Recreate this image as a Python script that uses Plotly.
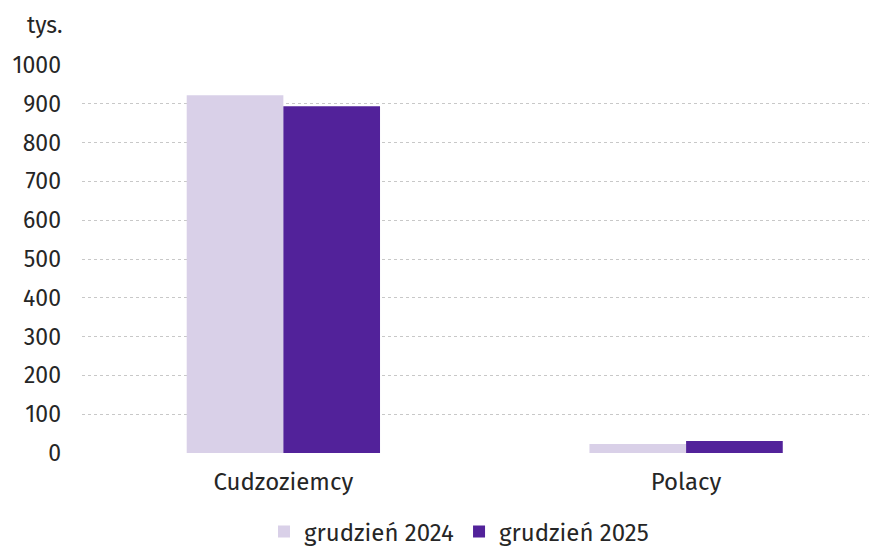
import plotly.graph_objects as go

categories = ["Cudzoziemcy", "Polacy"]
series_names = ["grudzień 2024", "grudzień 2025"]
values_2024 = [922, 23]
values_2025 = [894, 31]
y_ticks = [0, 100, 200, 300, 400, 500, 600, 700, 800, 900, 1000]

colors = ["#D9D0E8", "#52229A"]
FONT = "Fira Sans, Open Sans, Lato, sans-serif"

W, H = 869, 540  # page has an 8px body margin

fig = go.Figure()
for name, vals, col in zip(series_names, [values_2024, values_2025], colors):
    fig.add_trace(go.Bar(x=categories, y=vals, name=name, marker_color=col,
                         marker_line_width=0))

fig.update_layout(
    width=W, height=H,
    margin=dict(l=74, r=0, t=57, b=95, autoexpand=False),
    paper_bgcolor="white", plot_bgcolor="white",
    barmode="group", bargap=0.52, bargroupgap=0,
    font=dict(family=FONT, size=23, color="#262626"),
    showlegend=True,
    legend=dict(orientation="h", xref="container", yref="container",
                x=451 / W, xanchor="center", y=1 - 524 / H, yanchor="middle",
                font=dict(size=24), itemwidth=30, traceorder="normal"),
    annotations=[dict(text="tys.", xref="paper", yref="paper",
                      x=(45 - 82) / 795, y=(453 - 25) / 388,
                      xanchor="center", yanchor="middle",
                      showarrow=False, font=dict(size=23))],
)
fig.update_xaxes(range=[-0.5, 1.474], showgrid=False, zeroline=False, showline=False,
                 automargin=False, ticks="", ticklabelstandoff=12, tickfont=dict(size=24))
fig.update_yaxes(range=[0, 1000], tickvals=y_ticks, showgrid=True, gridcolor="#C8C8C8",
                 griddash="dot", gridwidth=1, zeroline=False, showline=False,
                 automargin=False, ticks="", ticklabelstandoff=20, tickfont=dict(size=23))

fig.write_html("out.html")
